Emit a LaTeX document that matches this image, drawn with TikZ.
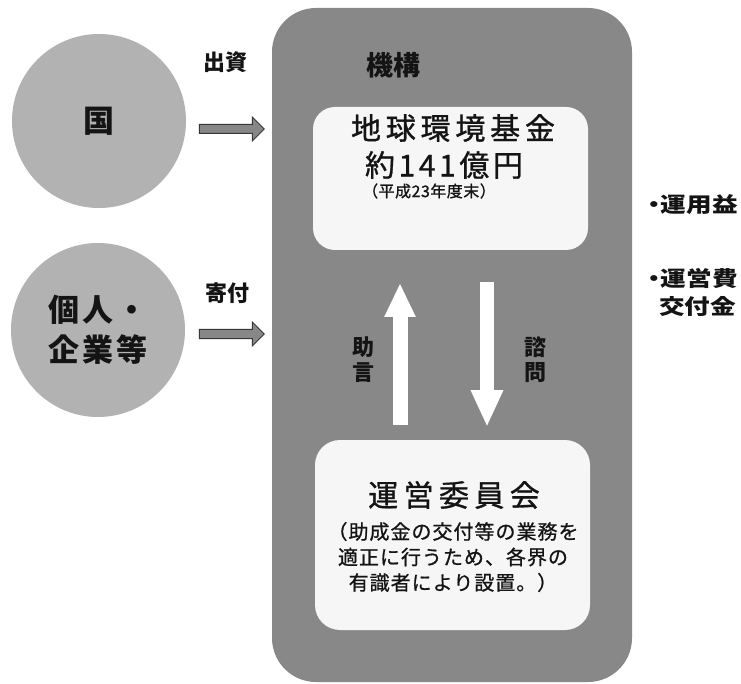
\documentclass[tikz,border=0pt]{standalone}
\usepackage{fontspec}
\newfontfamily\jp{Noto Sans CJK JP}
\usetikzlibrary{shapes.arrows,arrows.meta,calc}
\definecolor{outerg}{RGB}{136,136,136}
\definecolor{circg}{RGB}{178,178,178}
\definecolor{boxw}{RGB}{246,246,246}
\definecolor{arrg}{RGB}{135,135,135}
\definecolor{arrd}{RGB}{55,55,55}
\definecolor{txt}{RGB}{20,20,20}
\begin{document}
\begin{tikzpicture}[x=1pt,y=-1pt,
  lab/.style={text=txt,inner sep=0pt,font=\jp\bfseries\fontsize{22}{25}\selectfont},
  big/.style={text=txt,inner sep=0pt,font=\jp\fontsize{30}{34}\selectfont\addfontfeatures{LetterSpace=16,FakeBold=1}},
  small/.style={text=txt,inner sep=0pt,align=center,font=\jp\fontsize{20}{25.5}\selectfont\addfontfeatures{LetterSpace=5,FakeBold=0.8}},
  side/.style={text=txt,inner sep=0pt,anchor=west,font=\jp\bfseries\fontsize{21}{24}\selectfont\addfontfeatures{FakeStretch=1.22}},
  circ/.style={circle,fill=circg,minimum size=174pt,inner sep=0pt,text=txt,align=center},
  inbox/.style={rectangle,fill=boxw,inner sep=0pt},
  fatarrow/.style={single arrow,draw=arrd,fill=arrg,line width=1pt,inner xsep=0pt,inner ysep=4pt,single arrow head extend=7.5pt,minimum height=65pt},
  wup/.style={draw=white,line width=15pt,-{Triangle[length=34pt,width=29pt]}},
]
\fill[white] (0,0) rectangle (741,684);
\useasboundingbox (0,0) rectangle (741,684);
% outer organisation box
\node[rectangle,fill=outerg,rounded corners=44pt,minimum width=360pt,minimum height=674pt,inner sep=0pt] (kiko) at (452,345) {};
\node[lab,font=\jp\bfseries\fontsize{27}{30}\selectfont] (kikol) at (393,65) {機構};
% inner boxes
\node[inbox,rounded corners=22pt,minimum width=275pt,minimum height=143pt] (fund) at (450.5,178.5) {};
\node[inbox,rounded corners=25pt,minimum width=275pt,minimum height=190pt] (comm) at (452.5,535) {};
\node[big] (f1) at (453,128) {地球環境基金};
\node[big,font=\jp\fontsize{30}{34}\selectfont\addfontfeatures{LetterSpace=12,FakeBold=1}] (f2) at (444,165) {約141億円};
\node[text=txt,inner sep=0pt,font=\jp\fontsize{16}{18}\selectfont\addfontfeatures{LetterSpace=3,FakeBold=1}] (f3) at (429,191) {（平成23年度末）};
\node[big,font=\jp\fontsize{30}{34}\selectfont\addfontfeatures{LetterSpace=18,FakeBold=1}] (c1) at (454,495) {運営委員会};
\node[small] (c2) at (453,557) {（助成金の交付等の業務を\\適正に行うため、各界の\\有識者により設置。）};
% circles
\node[circ,font=\jp\bfseries\fontsize{31}{36}\selectfont] (kuni) at (99,121) {国};
\node[circ,font=\jp\bfseries\fontsize{31}{40}\selectfont\addfontfeatures{LetterSpace=10}] (kojin) at (98,330) {個人・\\企業等};
% flows in
\node[lab] (shusshi) at (225,62) {出資};
\node[lab] (kifu) at (227,293) {寄付};
\node[fatarrow] (a1) at (229.5,129) {};
\node[fatarrow] (a2) at (229.5,334) {};
% advice / consultation arrows
\coordinate (u0) at (400,425);
\coordinate (u1) at (400,283);
\coordinate (d0) at (487,282);
\coordinate (d1) at (487,427);
\draw[wup] (u0) -- (u1);
\draw[wup,line width=14pt,-{Triangle[length=37pt,width=30pt]}] (d0) -- (d1);
\node[lab,align=center] (jogen) at (363,360) {助\\言};
\node[lab,align=center] (shimon) at (535,360) {諮\\問};
% outputs
\node[side] (unyo) at (641,205) {・\kern-6pt運用益};
\node[side] (uneihi) at (641,279) {・\kern-6pt運営費};
\node[side] (kofu) at (659,306) {交付金};
\end{tikzpicture}
\end{document}
